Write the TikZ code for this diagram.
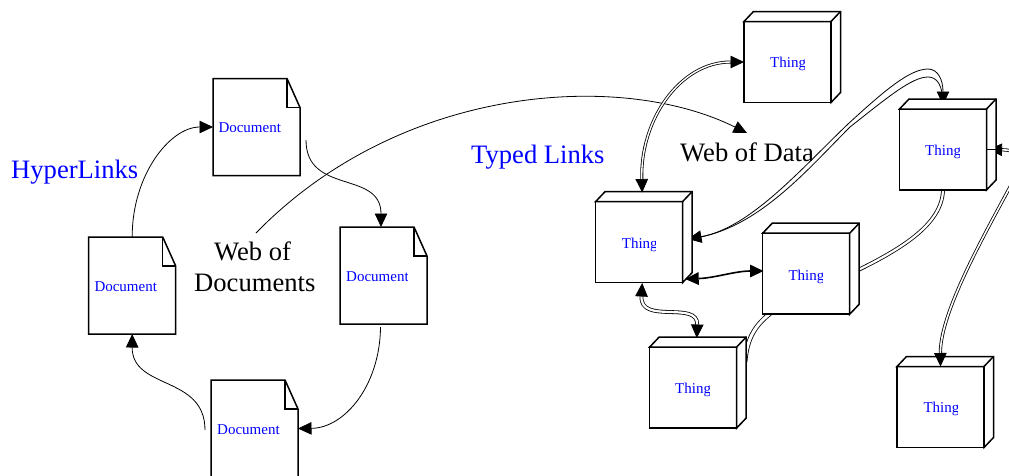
\documentclass[tikz,border=0pt]{standalone}
\usepackage{fontspec}
\setmainfont{Liberation Serif}
\usetikzlibrary{arrows.meta}
\tikzset{
  boxline/.style={draw=black,line width=1.5pt,line join=miter,fill=white},
  thingbox/.style={boxline,minimum width=87pt,minimum height=81pt,inner sep=0pt,outer sep=0pt},
  docbox/.style={minimum width=87pt,minimum height=97pt,inner sep=0pt,outer sep=0pt},
  lnk/.style={draw=black,line width=.8pt},
  dbl/.style={draw=black,line width=.8pt,double=white,double distance=2.2pt},
  tip/.style={-{Triangle[length=13.5pt,width=12.5pt]}},
  tips/.style={{Triangle[length=13.5pt,width=12.5pt]}-{Triangle[length=13.5pt,width=12.5pt]}},
  smalltext/.style={text=blue,font=\fontsize{15}{16}\selectfont,anchor=base west,inner sep=0pt},
  bigblue/.style={text=blue,font=\fontsize{26.6}{30}\selectfont,anchor=base west,inner sep=0pt},
  bigblack/.style={text=black,font=\fontsize{26.6}{30}\selectfont,anchor=base west,inner sep=0pt},
}
% name, left, top
\newcommand{\mkthing}[3]{%
  \node[thingbox] (#1) at (#2+43.5,#3+40.5) {};
  \draw[boxline] (#1.north west) -- ++(9.5,-10) -- ++(87,0) -- ++(0,81) -- (#1.south east) -- (#1.north east) -- cycle;
  \draw[boxline] (#1.north east) -- ++(9.5,-10);
}
\newcommand{\mkdoc}[3]{%
  \node[docbox] (#1) at (#2+43.5,#3+48.5) {};
  \draw[boxline] (#1.north west) -- ++(74,0) -- ++(13,29) -- (#1.south east) -- (#1.south west) -- cycle;
  \draw[boxline,fill=none] (#1.north west) ++(74,0) -- ++(0,29) -- ++(13,0);
}
% name, style, left, baseline, clip right, text
\newcommand{\mklabel}[6]{%
  \begin{scope}
    \clip (#3-3,#4-30) rectangle (#5,#4+12);
    \node[#2] (#1) at (#3,#4) {#6};
  \end{scope}
}
\begin{document}
\begin{tikzpicture}[x=1pt,y=-1pt]
\useasboundingbox (0,0) rectangle (1009,475);
\fill[white] (0,0) rectangle (1009,475);
\begin{scope}
\clip (0,0) rectangle (1009,475);

% documents
\mkdoc{D1}{213}{78.5}
\mkdoc{D2}{88.7}{237}
\mkdoc{D3}{340}{227}
\mkdoc{D4}{211}{380}

\coordinate (D1out) at (306,140);
\coordinate (D4out) at (205,430);
\coordinate (WoDoc) at (256,233);
\coordinate (WoData) at (747,133);

\draw[lnk,tip] (D2.north) .. controls (132,175) and (170,127) .. (D1.west);
\draw[lnk,tip] (D1out) .. controls (306,195) and (381,170) .. ([shift={(-2.5,0)}]D3.north);
\draw[lnk,tip] ([shift={(-3,3)}]D3.south) .. controls (380,385) and (345,428) .. (D4.east);
\draw[lnk,tip] (D4out) .. controls (205,375) and (132,390) .. (D2.south);
\draw[lnk,tip] (WoDoc) .. controls (400,85) and (620,70) .. (WoData);

% things drawn under the links
\mkthing{T6}{897}{366.5}

% links running behind the boxes
\coordinate (P1) at (848,124);
\coordinate (P2) at (928,69);
\coordinate (Q1) at (850,127);
\coordinate (Q2) at (928,77);
\coordinate (R1) at (1018,172);
\coordinate (S1) at (772,312);
\coordinate (S2) at (745,362);

\node[docbox,minimum width=0pt,minimum height=0pt] (T2a) at (943,105) {};
\node[docbox,minimum width=0pt,minimum height=0pt] (T3a) at (688,239) {};

\draw[lnk] (T3a) .. controls (755,232) and (805,172) .. (Q1) .. controls (888,97) and (912,77) .. (Q2) .. controls (937,77) and (943,85) .. (T2a);
\draw[lnk,tips] (T3a) .. controls (750,228) and (800,170) .. (P1) .. controls (885,90) and (910,69) .. (P2) .. controls (938,69) and (943,80) .. (T2a);

\draw[dbl] (943,190) .. controls (942,225) and (900,250) .. (850,274);
\draw[dbl,double distance=3pt] (S1) .. controls (755,325) and (747,338) .. (S2);
\draw[dbl,double distance=1.6pt,{Triangle[length=13.5pt,width=12.5pt]}-] (988.5,149.5) .. controls (1015,150) and (1030,155) .. (R1);
\draw[dbl,double distance=1.6pt,tip] (R1) .. controls (990,225) and (940,310) .. (T6.north);

% remaining things
\mkthing{T1}{744}{21.5}
\mkthing{T2}{899.5}{109}
\mkthing{T3}{595.7}{201.5}
\mkthing{T4}{762.7}{233.2}
\mkthing{T5}{649.7}{347}

% links on top of the boxes
\draw[lnk] (T2.east) -- ++(10,0);
\draw[dbl,tips,double distance=1.4pt] ([shift={(3,-9)}]T3.north) .. controls (640,120) and (680,62) .. (T1.west);
\draw[lnk,line width=1.6pt,tips] ([shift={(2.5,-3.5)}]T3.south east) .. controls (715,278) and (735,271) .. ([shift={(.8,-2.7)}]T4.west);
\draw[dbl,tips] ([shift={(3,.5)}]T3.south) .. controls (640,325) and (698,300) .. ([shift={(3.6,-9)}]T5.north);

% labels
\mklabel{Lh}{bigblue}{11}{178}{136.5}{HyperLinks}
\mklabel{Lt}{bigblue}{471}{163}{605}{Typed Links}
\mklabel{Lw}{bigblack}{214}{260}{315}{Web of}
\mklabel{Lo}{bigblack}{194}{291.7}{315}{Documents}
\mklabel{Ld}{bigblack}{680}{161}{811}{Web of Data}

\mklabel{a1}{smalltext}{218.3}{132}{281}{Document}
\mklabel{a2}{smalltext}{94.3}{291}{156.5}{Document}
\mklabel{a3}{smalltext}{346}{281}{407.5}{Document}
\mklabel{a4}{smalltext}{217}{434}{279}{Document}

\mklabel{b1}{smalltext}{770}{67.7}{804}{Thing}
\mklabel{b2}{smalltext}{925}{155}{959}{Thing}
\mklabel{b3}{smalltext}{621.7}{248}{655.5}{Thing}
\mklabel{b4}{smalltext}{788.3}{280}{822.3}{Thing}
\mklabel{b5}{smalltext}{675}{393.3}{709.5}{Thing}
\mklabel{b6}{smalltext}{923.3}{412.7}{957.7}{Thing}
\end{scope}
\end{tikzpicture}
\end{document}
